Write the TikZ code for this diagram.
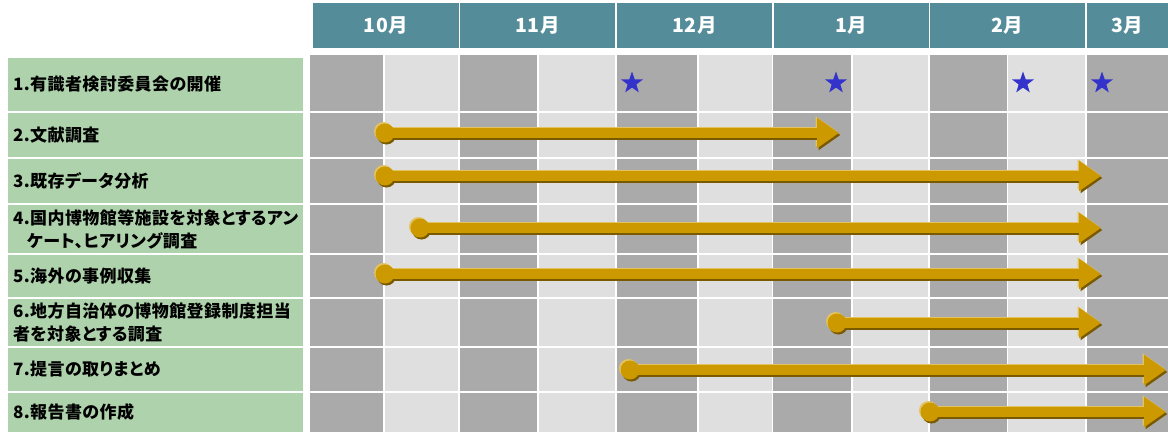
\documentclass[tikz,border=0pt]{standalone}
\usepackage{fontspec}
\setmainfont{Noto Sans CJK JP}
\usepackage{tikz}
\usetikzlibrary{shapes.geometric, arrows.meta, positioning}
\definecolor{hdrteal}{HTML}{548C99}
\definecolor{taskgreen}{HTML}{AED3AC}
\definecolor{celldark}{HTML}{AAAAAA}
\definecolor{celllight}{HTML}{DFDFDF}
\definecolor{bargold}{HTML}{CC9900}
\definecolor{barlight}{HTML}{E2C360}
\definecolor{bardark}{HTML}{7A5A00}
\definecolor{starblue}{HTML}{3333CC}

\begin{document}
\begin{tikzpicture}[x=1pt, y=-1pt,
    month/.style={rectangle, fill=hdrteal, minimum height=45pt, inner sep=0pt, text=white,
                  font=\fontsize{19.5}{19.5}\selectfont\bfseries\addfontfeature{LetterSpace=2}},
    task/.style={rectangle, fill=taskgreen, minimum width=295pt, text width=285pt,
                 inner xsep=5pt, inner ysep=0pt, align=left,
                 font=\fontsize{17}{23}\selectfont\bfseries\addfontfeature{RawFeature=+palt,LetterSpace=2.5}},
    meetstar/.style={star, star points=5, star point ratio=2.5, fill=starblue,
                     minimum size=23pt, inner sep=0pt},
    startdot/.style={circle, minimum size=19pt, inner sep=0pt},
    bar/.style={line width=9.5pt, -{Triangle[length=22pt, width=29pt]}}
]
\useasboundingbox (0,0) rectangle (1168,432);

% grid of half months
\foreach \top/\bot in {55/111, 113/157, 159/203, 205/253, 255/297, 299/346, 348/391, 393/432} {
  \foreach \lft/\rgt/\shade in {310/383/celldark, 385/458/celllight, 460/537/celldark,
      539/615/celllight, 617/697/celldark, 699/772/celllight, 773/851/celldark,
      853/928/celllight, 930/1007/celldark, 1008/1085/celllight, 1087/1168/celldark} {
    \fill[\shade] (\lft,\top) rectangle (\rgt,\bot);
  }
}

% months
\node[month, minimum width=145.5pt] (m10) at (385.75,25.5) {10月};
\node[month, minimum width=155pt]   (m11) at (537.5,25.5)  {11月};
\node[month, minimum width=155pt]   (m12) at (694.5,25.5)  {12月};
\node[month, minimum width=155pt]   (m1)  at (851,25.5)    {1月};
\node[month, minimum width=155pt]   (m2)  at (1007.5,25.5) {2月};
\node[month, minimum width=81pt]    (m3)  at (1127.5,25.5) {3月};

% tasks
\node[task, minimum height=53pt] (t1) at (155.5,84.5)  {1.有識者検討委員会の開催};
\node[task, minimum height=44pt] (t2) at (155.5,135)   {2.文献調査};
\node[task, minimum height=44pt] (t3) at (155.5,181)   {3.既存データ分析};
\node[task, minimum height=48pt] (t4) at (155.5,229)   {4.国内博物館等施設を対象とするアン\\\hspace*{14pt}ケート、ヒアリング調査};
\node[task, minimum height=42pt] (t5) at (155.5,276)   {5.海外の事例収集};
\node[task, minimum height=47pt] (t6) at (155.5,322.5) {6.地方自治体の博物館登録制度担当\\者を対象とする調査};
\node[task, minimum height=43pt] (t7) at (155.5,369.5) {7.提言の取りまとめ};
\node[task, minimum height=39pt] (t8) at (155.5,412.5) {8.報告書の作成};

% meetings
\node[meetstar] (k1) at (632,83)  {};
\node[meetstar] (k2) at (836,83)  {};
\node[meetstar] (k3) at (1023,83) {};
\node[meetstar] (k4) at (1102,83) {};

% schedule bars
\foreach \n/\xa/\xb/\y in {2/385/839/133, 3/385/1101/176, 4/420/1101/228, 5/385/1101/274,
                           6/837/1101/323, 7/630/1166/370, 8/930/1166/412} {
  \node[startdot] (s\n) at (\xa,\y) {};
  \coordinate (e\n) at (\xb,\y);
}
\foreach \n in {2,...,8} {
  \fill[barlight] ([shift={(-1.5pt,1.5pt)}]s\n.center) circle (9.5pt);
  \draw[bar, barlight] ([shift={(-1.5pt,1.5pt)}]s\n.center) -- ([shift={(-1.5pt,1.5pt)}]e\n);
  \fill[bardark] ([shift={(1.5pt,-2pt)}]s\n.center) circle (9.5pt);
  \draw[bar, bardark] ([shift={(1.5pt,-2pt)}]s\n.center) -- ([shift={(1.5pt,-2pt)}]e\n);
  \draw[bar, bargold] (s\n.center) -- (e\n);
  \fill[bargold] (s\n.center) circle (9.5pt);
}
\end{tikzpicture}
\end{document}
